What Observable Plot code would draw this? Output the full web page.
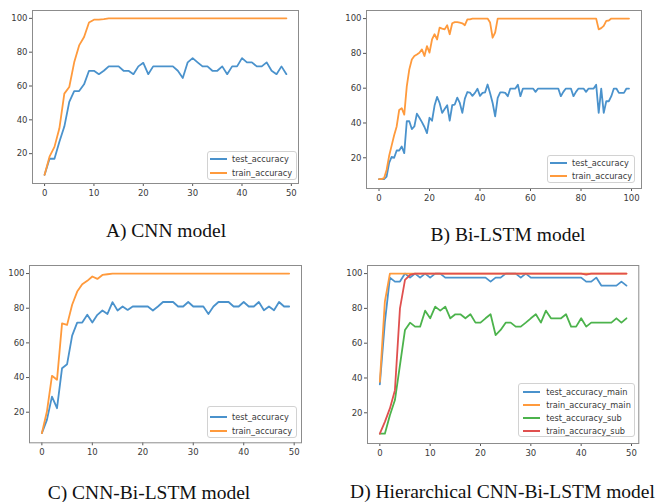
<!DOCTYPE html>
<html><head><meta charset="utf-8">
<script src="https://cdn.jsdelivr.net/npm/d3@7"></script>
<script src="https://cdn.jsdelivr.net/npm/@observablehq/plot@0.6"></script>
<style>
body{margin:0;background:#fff;}
#root{position:relative;width:663px;height:502px;overflow:hidden;background:#fff;}
.panel{position:absolute;}
.legend{position:absolute;border:1px solid #d2d2d2;border-radius:3px;background:rgba(255,255,255,0.85);font-family:"DejaVu Sans";font-size:8.2px;color:#3a3a3a;box-sizing:border-box;}
.legend .row{display:flex;align-items:center;white-space:nowrap;}
.legend .sw{width:17px;height:2px;flex:none;}
.caption{position:absolute;font-family:"Liberation Serif","Times New Roman",serif;font-size:19.5px;line-height:20px;white-space:nowrap;transform:translateX(-50%);color:#111;}
</style></head>
<body><div id="root"></div>
<script>
// ---- data (accuracy per epoch) ----
const yTicks = [20, 40, 60, 80, 100];
const xTicks50 = [0, 10, 20, 30, 40, 50];
const xTicks100 = [0, 20, 40, 60, 80, 100];

const cnnTest = [7.5,17,17,27,36,50.6,57,57,61,69,69,67,69,71.6,71.6,71.6,69,69,67,71.6,73.7,67,71.6,71.6,71.6,71.6,71.6,69,64.7,74,76.5,74,71.6,71.6,69,69,71.6,67,71.6,71.6,76.5,74,74,71.6,71.6,74,69,67,71.6,67];
const cnnTrain = [7.5,18.2,24,35,55.5,59.4,74,84,89,97.6,99.2,99.2,99.5,100,100,100,100,100,100,100,100,100,100,100,100,100,100,100,100,100,100,100,100,100,100,100,100,100,100,100,100,100,100,100,100,100,100,100,100,100];

const bilstmTest = [7.7,7.7,7.7,9.2,17,20.5,20,24.2,24.2,26.5,22.7,41,41,36.5,38,45.4,43,40.5,37.7,34.2,
  43,41.3,50,55,51.5,45.8,48,50.2,41.3,50.2,50.6,54.6,51.5,45.8,54,57.8,57.5,55.6,57.3,59.7,
  55.6,57.3,57.6,62.1,57.1,51.5,43.8,54.4,57.6,57.6,57.3,55.4,59.8,59.8,59.8,62,55.4,59.8,59.8,59.8,
  59.8,59.8,57.9,59.8,59.8,59.8,59.8,59.8,59.8,59.8,59.8,59.8,55.4,57.9,59.8,59.8,59.8,55.4,57.9,59.8,
  59.8,59.8,57.9,59.8,59.8,59.8,62,45.8,59.8,45.8,52.5,52.5,55.4,59.8,59.8,57.3,57.3,57.3,59.8,59.8];
const bilstmTrain = [7.7,7.7,8.3,13,21,27,33,38,47.5,48.5,44.8,61,70.8,76.5,78.5,79.4,80.4,82.3,78.5,84.2,
  80.4,88,91,88,94.8,94.2,93.8,96.2,91,97.3,98,98,97.7,97.3,96.2,99.6,99.6,100,100,100,
  100,100,100,100,97.7,89,92,100,100,100,100,100,100,100,100,100,100,100,100,100,
  100,100,100,100,100,100,100,100,100,100,100,100,100,100,100,100,100,100,100,100,
  100,100,100,100,100,100,100,93.8,94.5,95.8,98.7,98.9,100,100,100,100,100,100,100,100];

const cnnBilstmTest = [7.9,15.6,29,22.3,45.4,47.7,64.2,71.7,71.7,76.2,71.7,76.2,78.7,76.7,83.5,78.7,81,79,81,81,81,81,78.7,81,83.6,83.6,83.6,81,81,83.6,81,81,81,76.7,81,83.6,83.6,83.6,81,81,83.6,81,81,83.6,78.8,81,78.8,83.6,81,81];
const cnnBilstmTrain = [7.9,20.4,41,38.7,71.3,70.4,82,89.6,93.8,95.8,98.3,96.9,99.2,99.6,100,100,100,100,100,100,100,100,100,100,100,100,100,100,100,100,100,100,100,100,100,100,100,100,100,100,100,100,100,100,100,100,100,100,100,100];

const hierTestMain = [36.3,72,97.7,95.4,95.4,100,97.7,100,97.7,100,97.7,100,100,97.7,97.7,97.7,97.7,97.7,97.7,97.7,97.7,97.7,95.4,97.7,97.7,100,100,100,97.7,100,97.7,97.7,97.7,97.7,97.7,97.7,97.7,97.7,97.7,97.7,97.7,95.4,95.4,97.7,93.1,93.1,93.1,93.1,95.4,93.1];
const hierTrainMain = [37.8,83.9,100,100,100,100,100,100,100,100,100,100,100,100,100,100,100,100,100,100,100,100,100,100,100,100,100,100,100,100,100,100,100,100,100,100,100,100,100,100,100,100,100,100,100,100,100,100,100,100];
const hierTestSub = [8,8,18.6,27.3,47.4,67.6,71.8,69.5,69.5,78.7,74.3,81,78.7,81,74.3,76.6,76.6,74.3,76.6,71.8,71.8,74.3,76.6,64.7,67.6,71.8,71.8,69.5,69.5,71.8,74.3,76.6,71.8,78.7,74.3,74.3,74.3,76.6,69.5,69.5,74.3,69.5,71.8,71.8,71.8,71.8,71.8,74.3,71.8,74.3];
const hierTrainSub = [8,14.8,22.5,33,80,96.4,99.2,100,100,100,100,100,100,100,100,100,100,100,100,100,100,100,100,100,100,100,100,100,100,100,100,100,100,100,100,100,100,100,100,100,100,99.4,100,100,100,100,100,100,100,100];

const captions = ["A) CNN model", "B) Bi-LSTM model", "C) CNN-Bi-LSTM model", "D) Hierarchical CNN-Bi-LSTM model"];

// ---- styling ----
const C = {blue: "#4a92cc", orange: "#ff9a3c", green: "#4cb34c", red: "#e0504f"};

const panels = [
  {left: 0, top: 0, width: 330, height: 205, ml: 32, mr: 32, mt: 10, mb: 22, xDomain: [-2.45, 51.45], xTicks: xTicks50,
   series: [{v: cnnTest, c: C.blue, n: "test_accuracy"}, {v: cnnTrain, c: C.orange, n: "train_accuracy"}],
   legend: {left: 207, top: 151, width: 90, height: 29, pt: 0.5, pl: 2, rowH: 13.7, gap: 5},
   cap: {text: captions[0], cx: 166, top: 220.5}},
  {left: 330, top: 0, width: 333, height: 210, ml: 36, mr: 22, mt: 10, mb: 22, xDomain: [-4.95, 103.95], xTicks: xTicks100,
   series: [{v: bilstmTest, c: C.blue, n: "test_accuracy"}, {v: bilstmTrain, c: C.orange, n: "train_accuracy"}],
   legend: {left: 547, top: 155, width: 88, height: 28, pt: 0, pl: 2, rowH: 13.3, gap: 5},
   cap: {text: captions[1], cx: 508, top: 224.5}},
  {left: 0, top: 255, width: 330, height: 210, ml: 29, mr: 29, mt: 10, mb: 22.7, xDomain: [-2.45, 51.45], xTicks: xTicks50,
   series: [{v: cnnBilstmTest, c: C.blue, n: "test_accuracy"}, {v: cnnBilstmTrain, c: C.orange, n: "train_accuracy"}],
   legend: {left: 207, top: 406, width: 90, height: 32, pt: 2.5, pl: 2, rowH: 14.3, gap: 5},
   cap: {text: captions[2], cx: 149, top: 483}},
  {left: 330, top: 255, width: 333, height: 210, ml: 37, mr: 24.7, mt: 10, mb: 22, xDomain: [-2.45, 51.45], xTicks: xTicks50,
   series: [{v: hierTestMain, c: C.blue, n: "test_accuracy_main"}, {v: hierTrainMain, c: C.orange, n: "train_accuracy_main"},
            {v: hierTestSub, c: C.green, n: "test_accuracy_sub"}, {v: hierTrainSub, c: C.red, n: "train_accuracy_sub"}],
   legend: {left: 518, top: 383, width: 117, height: 54, pt: 1.2, pl: 3.7, rowH: 13.1, gap: 6.5},
   cap: {text: captions[3], cx: 502.5, top: 481.5}}
];

const root = document.getElementById("root");

for (const p of panels) {
  const chart = Plot.plot({
    width: p.width, height: p.height,
    marginLeft: p.ml, marginRight: p.mr, marginTop: p.mt, marginBottom: p.mb,
    style: {fontFamily: "DejaVu Sans", fontSize: "8.5px", color: "#3a3a3a", background: "transparent", overflow: "visible"},
    x: {domain: p.xDomain},
    y: {domain: [2.35, 104.65]},
    marks: [
      Plot.axisX({ticks: p.xTicks, tickSize: 3, tickPadding: 3, label: null, stroke: "#555"}),
      Plot.axisY({ticks: yTicks, tickSize: 3, tickPadding: 2, label: null, stroke: "#555"}),
      ...p.series.map(s => Plot.lineY(s.v, {stroke: s.c, strokeWidth: 1.8, strokeLinejoin: "round"})),
      Plot.frame({stroke: "#8c8c8c", strokeWidth: 1})
    ]
  });
  const wrap = document.createElement("div");
  wrap.className = "panel";
  wrap.style.left = p.left + "px";
  wrap.style.top = p.top + "px";
  wrap.appendChild(chart);
  root.appendChild(wrap);

  const lg = document.createElement("div");
  lg.className = "legend";
  Object.assign(lg.style, {left: p.legend.left + "px", top: p.legend.top + "px", width: p.legend.width + "px",
    height: p.legend.height + "px", paddingTop: p.legend.pt + "px", paddingLeft: p.legend.pl + "px"});
  for (const s of p.series) {
    const row = document.createElement("div");
    row.className = "row";
    row.style.height = p.legend.rowH + "px";
    const sw = document.createElement("span");
    sw.className = "sw";
    sw.style.background = s.c;
    sw.style.marginRight = p.legend.gap + "px";
    const tx = document.createElement("span");
    tx.textContent = s.n;
    row.appendChild(sw);
    row.appendChild(tx);
    lg.appendChild(row);
  }
  root.appendChild(lg);

  const cap = document.createElement("div");
  cap.className = "caption";
  cap.style.left = p.cap.cx + "px";
  cap.style.top = p.cap.top + "px";
  cap.textContent = p.cap.text;
  root.appendChild(cap);
}
</script>
</body></html>
